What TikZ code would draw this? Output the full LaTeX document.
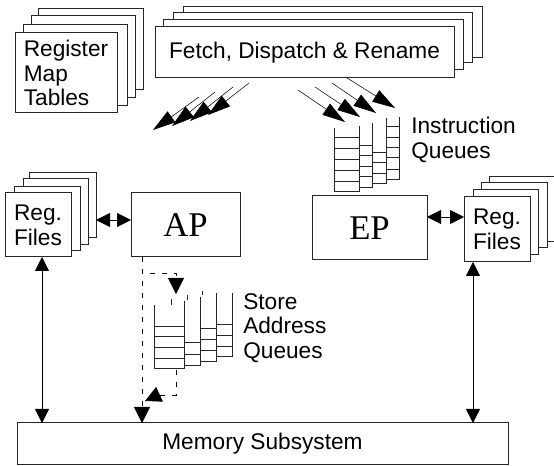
\documentclass[tikz,border=0pt]{standalone}
\usepackage{fontspec}
\setmainfont{Liberation Sans}
\newfontfamily\apfont{Liberation Serif}
\usetikzlibrary{arrows.meta}
\begin{document}
\begin{tikzpicture}[x=0.75pt,y=-0.75pt,
 ln/.style={line width=0.75pt, draw=black!85},
 box/.style={ln, fill=white, inner sep=0pt, outer sep=0pt},
 pbox/.style n args={4}{minimum width={(#3-#1)*0.75pt}, minimum height={(#4-#2)*0.75pt}, at={({(#1+#3)/2},{(#2+#4)/2})}},
 lbl/.style={font=\fontsize{17}{18.5}\selectfont, align=left},
 serifbig/.style={font=\apfont\fontsize{26}{26}\selectfont},
 dbl/.style={line width=0.6pt, {Triangle[length=10.5pt,width=10.5pt]}-{Triangle[length=10.5pt,width=10.5pt]}},
 big/.style={line width=0.4pt, -{Triangle[length=17pt,width=10pt]}},
 dsh/.style={line width=0.6pt, dash pattern=on 4pt off 5pt},
 dtip/.style={-{Triangle[length=12pt,width=12pt]}},
]
\useasboundingbox (0,0) rectangle (554,466);

% Register Map Tables stack
\node[box, pbox={38}{9}{143}{90}] (rm4) {};
\node[box, pbox={31}{16}{135}{98}] (rm3) {};
\node[box, pbox={23}{25}{127}{106}] (rm2) {};
\node[box, pbox={15}{33}{117}{113}, lbl] (rm) {Register\\Map\\Tables};

% Fetch stack
\node[box, pbox={183}{7}{482}{58}] (f4) {};
\node[box, pbox={173}{13}{472}{63}] (f3) {};
\node[box, pbox={163}{20}{463}{70}] (f2) {};
\node[box, pbox={155}{27}{454}{78}, lbl] (fetch) {Fetch, Dispatch \& Rename};

% arrows to the left
\coordinate (ls1) at (199,97);  \coordinate (lt1) at (153,130);
\coordinate (ls2) at (215,92);  \coordinate (lt2) at (172,126);
\coordinate (ls3) at (233,87);  \coordinate (lt3) at (190,121);
\coordinate (ls4) at (249,83);  \coordinate (lt4) at (208,115);
\foreach \i in {1,...,4} \draw[big] (ls\i) -- (lt\i);

% arrows to the right
\coordinate (rs1) at (298,90);  \coordinate (rt1) at (345,122);
\coordinate (rs2) at (315,87);  \coordinate (rt2) at (360,117);
\coordinate (rs3) at (332,83);  \coordinate (rt3) at (376,113);
\coordinate (rs4) at (347,78);  \coordinate (rt4) at (395,108);
\foreach \i in {1,...,4} \draw[big] (rs\i) -- (rt\i);

% Instruction queues
\draw[ln] (334,128) -- (334,192) (359,126) -- (359,192);
\foreach \y in {138,149,160,171,182,192} \draw[ln] (334,\y) -- (359,\y);
\draw[ln] (372,123) -- (372,188);
\foreach \y in {146,156,167,177,188} \draw[ln] (359,\y) -- (372,\y);
\draw[ln] (386,118) -- (386,184);
\foreach \y in {153,163,174,184} \draw[ln] (372,\y) -- (386,\y);
\draw[ln] (399,117) -- (399,180);
\foreach \y in {127,138,148,158,170,180} \draw[ln] (386,\y) -- (399,\y);
\node[lbl, anchor=west, inner sep=0pt] (iq) at (411,140) {Instruction\\Queues};

% Left register files stack
\node[box, pbox={29}{173}{96}{238}] (rl4) {};
\node[box, pbox={23}{179}{88}{245}] (rl3) {};
\node[box, pbox={14}{187}{80}{251}] (rl2) {};
\node[box, pbox={5}{193}{71}{257}, lbl] (rl) {Reg.\\Files};

% AP, EP
\node[box, pbox={131}{193}{240}{257}, serifbig] (ap) {AP};
\node[box, pbox={312}{196}{427}{260}, serifbig] (ep) {EP};

% Right register files stack
\node[box, pbox={489}{177}{556}{242}] (rr4) {};
\node[box, pbox={481}{183}{547}{248}] (rr3) {};
\node[box, pbox={473}{190}{538}{255}] (rr2) {};
\node[box, pbox={464}{197}{530}{262}, lbl] (rr) {Reg.\\Files};

% Memory
\node[box, pbox={17}{423}{508}{465}, lbl] (mem) {Memory Subsystem};

% double arrows
\coordinate (ya) at (0,220);
\draw[dbl] (rl4.east |- ya) -- (ap.west |- ya);
\coordinate (ye) at (0,217);
\draw[dbl] (ep.east |- ye) -- (rr.west |- ye);
\coordinate (xl) at (42,0);
\draw[dbl] (rl.south -| xl) -- (mem.north -| xl);
\coordinate (xr) at (473,0);
\draw[dbl] (rr.south -| xr) -- (mem.north -| xr);

% Store address queues
\draw[ln] (154,305) -- (154,369) (184,301) -- (184,369);
\foreach \y in {327,337,348,359,369} \draw[ln] (154,\y) -- (184,\y);
\draw[ln] (200,297) -- (200,366);
\foreach \y in {343,355,366} \draw[ln] (184,\y) -- (200,\y);
\draw[ln] (216,293) -- (216,362);
\foreach \y in {329,340,351,362} \draw[ln] (200,\y) -- (216,\y);
\draw[ln] (232,293) -- (232,357);
\foreach \y in {325,336,347,357} \draw[ln] (216,\y) -- (232,\y);
\draw[ln] (171,299) -- (171,305) (187,295) -- (187,300) (202,291) -- (202,295);
\node[lbl, anchor=west, inner sep=0pt] (saq) at (243,328) {Store\\Address\\Queues};

% dashed paths
\coordinate (dx) at (142,0);
\coordinate (d1) at (142,273);
\coordinate (d2) at (176,273);
\coordinate (d3) at (176,294);
\draw[dsh, dtip] (ap.south -| dx) -- (d1) -- (d2) -- (d3);
\draw[dsh, dtip] (ap.south -| dx) -- (mem.north -| dx);
\coordinate (q1) at (176,370);
\coordinate (q2) at (176,395);
\coordinate (q3) at (158,395);
\coordinate (q4) at (145,401);
\draw[dsh, dtip] (q1) -- (q2) -- (q3) -- (q4);
\end{tikzpicture}
\end{document}
